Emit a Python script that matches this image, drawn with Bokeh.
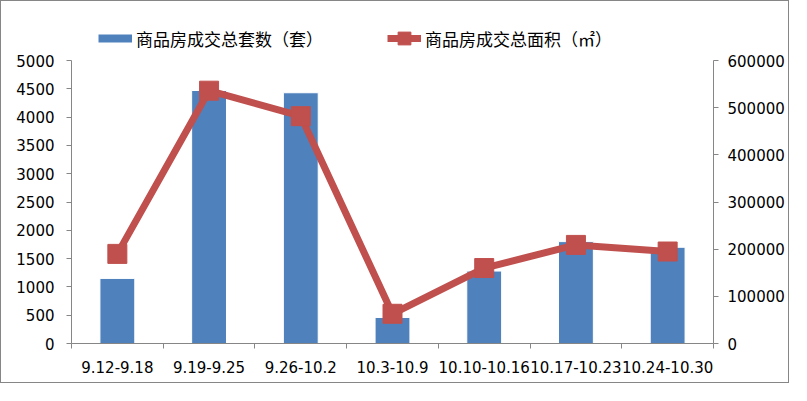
import numpy as np
from bokeh.plotting import figure
from bokeh.models import (Range1d, LinearAxis, FixedTicker, NumeralTickFormatter,
                          Legend, LegendItem, ColumnDataSource)
from bokeh.embed import file_html
from bokeh.resources import INLINE

categories = ["9.12-9.18", "9.19-9.25", "9.26-10.2", "10.3-10.9",
              "10.10-10.16", "10.17-10.23", "10.24-10.30"]
units = [1150, 4470, 4430, 460, 1280, 1800, 1700]
area = [190000, 536000, 482000, 63000, 160000, 209000, 195000]
left_ticks = [0, 500, 1000, 1500, 2000, 2500, 3000, 3500, 4000, 4500, 5000]
right_ticks = [0, 100000, 200000, 300000, 400000, 500000, 600000]
units_label = "商品房成交总套数（套）"
area_label = "商品房成交总面积（㎡）"

BLUE = "#4F81BD"
RED = "#C0504D"
GRAY = "#868686"
TICK_FONT = "DejaVu Sans"

# layout (pixels)
W, H = 789, 383
BORDER_L, BORDER_R, BORDER_T, BORDER_B = 70, 77, 10, 41
LEGEND_BAND = 49            # frame space above the top tick kept for the legend
frame_h = H - BORDER_T - BORDER_B
scale = frame_h / (frame_h - LEGEND_BAND)

n = len(categories)
centers = [i + 0.5 for i in range(n)]
bounds = list(range(n + 1))

src = ColumnDataSource(dict(x=centers, units=units, area=area))
key_src = ColumnDataSource(dict(x=[0.0], y=[-1000.0]))

p = figure(width=W, height=H, output_backend="svg", toolbar_location=None,
           x_range=Range1d(0, n),
           y_range=Range1d(left_ticks[0], left_ticks[-1] * scale),
           min_border_left=BORDER_L, min_border_right=BORDER_R,
           min_border_top=BORDER_T, min_border_bottom=BORDER_B,
           styles={"border": "1px solid " + GRAY})
p.outline_line_color = None
p.grid.visible = False
p.xaxis.visible = False
p.yaxis.visible = False

p.extra_y_ranges = {"area": Range1d(right_ticks[0], right_ticks[-1] * scale)}

# x axis with boundary ticks
xax = LinearAxis(ticker=FixedTicker(ticks=centers, minor_ticks=bounds),
                 major_label_overrides={c: lab for c, lab in zip(centers, categories)})
xax.major_tick_out = 0
xax.major_tick_in = 0
xax.minor_tick_out = 5
xax.minor_tick_in = 0
xax.minor_tick_line_color = GRAY
xax.major_label_standoff = 12
p.add_layout(xax, "below")

yl = LinearAxis(ticker=FixedTicker(ticks=left_ticks),
                bounds=(left_ticks[0], left_ticks[-1]))
yl.major_tick_out = 5
yl.major_tick_in = 0
yl.minor_tick_line_color = None
yl.major_label_standoff = 12
p.add_layout(yl, "left")

yr = LinearAxis(y_range_name="area", ticker=FixedTicker(ticks=right_ticks),
                formatter=NumeralTickFormatter(format="0"),
                bounds=(right_ticks[0], right_ticks[-1]))
yr.major_tick_out = 5
yr.major_tick_in = 0
yr.minor_tick_line_color = None
yr.major_label_standoff = 9
p.add_layout(yr, "right")

for ax in (xax, yl, yr):
    ax.axis_line_color = GRAY
    ax.major_tick_line_color = GRAY
    ax.major_label_text_font = TICK_FONT
    ax.major_label_text_font_size = "15px"
    ax.major_label_text_color = "#000000"

bars = p.vbar(x="x", top="units", width=0.38, bottom=0, source=src,
              fill_color=BLUE, line_color="#ffffff", line_width=1)
ln = p.line(x="x", y="area", source=src, y_range_name="area",
            line_color=RED, line_width=7)
sq = p.scatter(x="x", y="area", source=src, y_range_name="area", marker="square",
               size=19, fill_color=RED, line_color=RED)
# legend swatch for the bars: a thick flat stroke (single point, draws nothing in the frame)
bar_key = p.line(x="x", y="y", source=key_src, line_color=BLUE, line_width=8)

leg = Legend(items=[LegendItem(label=units_label, renderers=[bar_key]),
                    LegendItem(label=area_label, renderers=[ln, sq])],
             orientation="horizontal", location=(27, frame_h - 53 + BORDER_T),
             glyph_width=34, glyph_height=32, label_height=20, label_standoff=4,
             spacing=64, padding=0, margin=0, border_line_color=None,
             background_fill_alpha=0)
leg.label_text_font = "Noto Sans CJK SC"
leg.label_text_font_size = "17px"
leg.label_text_color = "#000000"
p.add_layout(leg, "center")

open("out.html", "w").write(file_html(p, INLINE))
